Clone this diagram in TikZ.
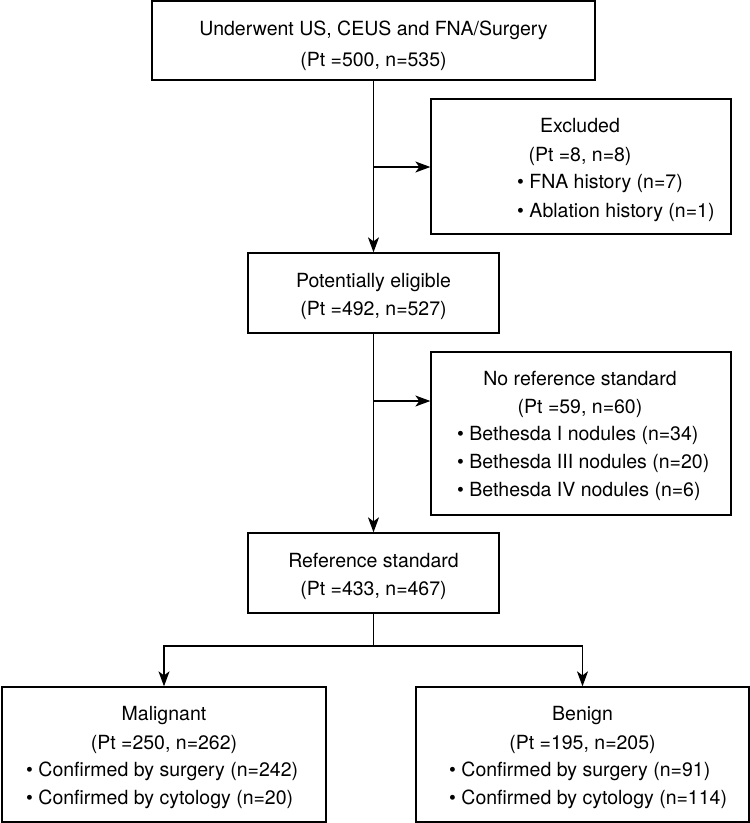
\documentclass[tikz,border=0pt]{standalone}
\usepackage{fontspec}
\setmainfont{TeX Gyre Heros}
\usetikzlibrary{arrows.meta}
\begin{document}
\begin{tikzpicture}[x=1pt,y=-1pt,
  box/.style={draw=black, line width=1.3pt, inner sep=0pt, rectangle},
  txt/.style={inner sep=0pt, anchor=base, font=\fontsize{19.5}{23}\selectfont},
  btxt/.style={txt, anchor=base west},
  arr/.style={line width=1.3pt, -{Stealth[length=15pt,width=11pt,inset=4pt]}},
  ln/.style={line width=1.3pt}]
\useasboundingbox (0,0) rectangle (750,823);

% boxes
\node[box, minimum width=443pt, minimum height=79pt] (b1) at (373.5,40.5) {};
\node[box, minimum width=300pt, minimum height=135pt] (ex) at (581,166.5) {};
\node[box, minimum width=251pt, minimum height=80pt] (pe) at (373.5,293) {};
\node[box, minimum width=300pt, minimum height=163pt] (nr) at (581,433.5) {};
\node[box, minimum width=251pt, minimum height=80pt] (rs) at (373.5,573) {};
\node[box, minimum width=324pt, minimum height=135pt] (mal) at (164,754.5) {};
\node[box, minimum width=333pt, minimum height=135pt] (ben) at (582.5,754.5) {};

% texts
\node[txt] (b1a) at (373.5,35) {Underwent US, CEUS and FNA/Surgery};
\node[txt] (b1b) at (373.5,66) {(Pt =500, n=535)};

\node[txt] (exa) at (580,132) {Excluded};
\node[txt] (exb) at (580,161) {(Pt =8, n=8)};
\node[btxt] (exc) at (517,188) {\textbullet\ FNA history (n=7)};
\node[btxt] (exd) at (517,217) {\textbullet\ Ablation history (n=1)};

\node[txt] (pea) at (373.5,287) {Potentially eligible};
\node[txt] (peb) at (373.5,315) {(Pt =492, n=527)};

\node[txt] (nra) at (580,385) {No reference standard};
\node[txt] (nrb) at (580,413) {(Pt =59, n=60)};
\node[btxt] (nrc) at (457,440) {\textbullet\ Bethesda I nodules (n=34)};
\node[btxt] (nrd) at (457,468) {\textbullet\ Bethesda III nodules (n=20)};
\node[btxt] (nre) at (457,496) {\textbullet\ Bethesda IV nodules (n=6)};

\node[txt] (rsa) at (373.5,567) {Reference standard};
\node[txt] (rsb) at (373.5,595) {(Pt =433, n=467)};

\node[txt] (mala) at (164,720) {Malignant};
\node[txt] (malb) at (164,749) {(Pt =250, n=262)};
\node[btxt] (malc) at (26,776) {\textbullet\ Confirmed by surgery (n=242)};
\node[btxt] (mald) at (26,804) {\textbullet\ Confirmed by cytology (n=20)};

\node[txt] (bena) at (582.5,720) {Benign};
\node[txt] (benb) at (582.5,749) {(Pt =195, n=205)};
\node[btxt] (benc) at (449,776) {\textbullet\ Confirmed by surgery (n=91)};
\node[btxt] (bend) at (449,804) {\textbullet\ Confirmed by cytology (n=114)};

% connectors
\coordinate (j1) at (373.5,167);
\coordinate (j2) at (373.5,401);
\coordinate (split) at (373.5,646);
\draw[arr] (b1.south) -- (pe.north);
\draw[arr] (j1) -- (j1 -| ex.west);
\draw[arr] (pe.south) -- (rs.north);
\draw[arr] (j2) -- (j2 -| nr.west);
\draw[ln] (rs.south) -- (split);
\draw[arr] (split) -| (mal.north);
\draw[arr] (split) -| (ben.north);
\end{tikzpicture}
\end{document}
